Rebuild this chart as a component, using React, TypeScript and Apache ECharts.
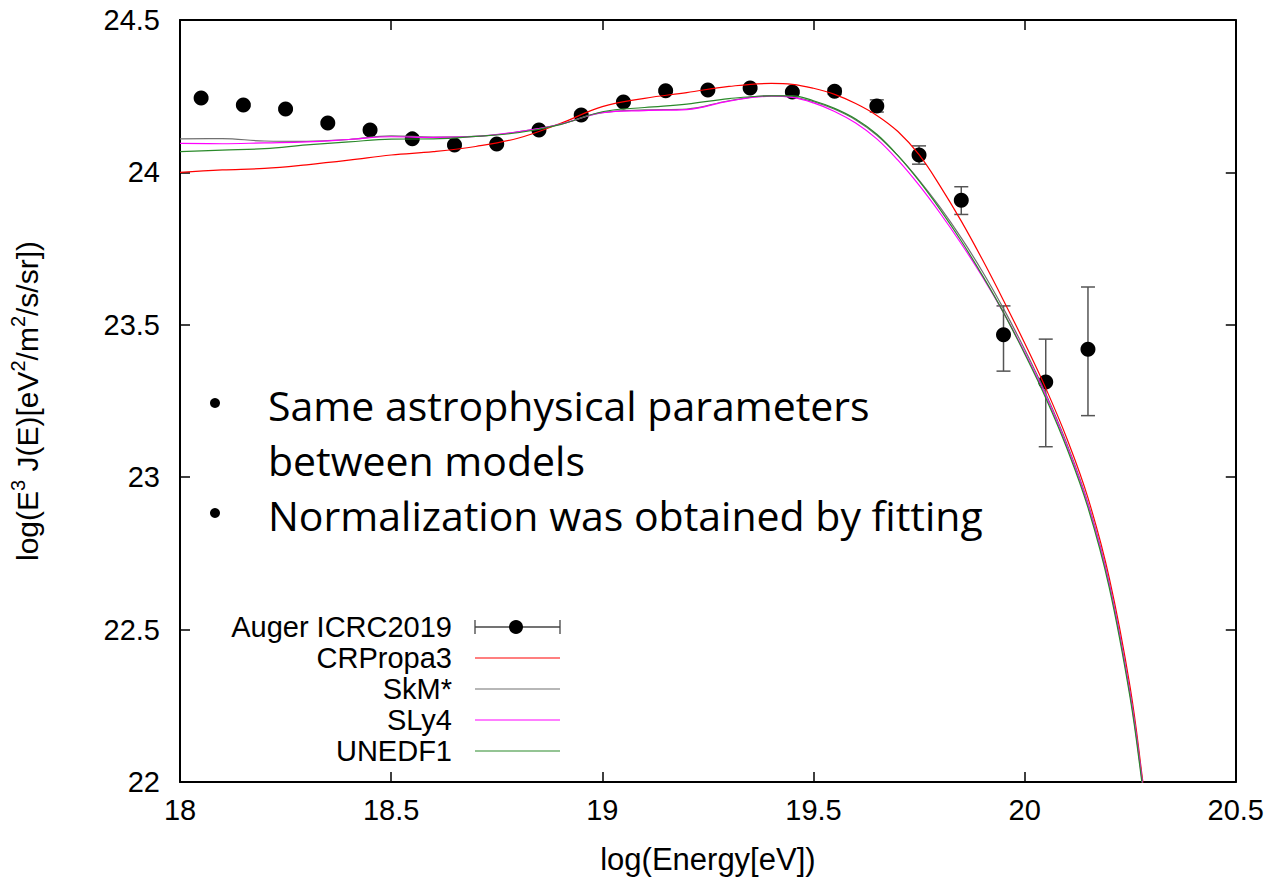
import React, { useEffect, useRef } from "react";
import * as echarts from "echarts";

// ---- data ----
const dataX = [18.05, 18.15, 18.25, 18.35, 18.45, 18.55, 18.65, 18.75, 18.85, 18.95, 19.05, 19.15, 19.25, 19.35, 19.45, 19.55, 19.65, 19.75, 19.85, 19.95, 20.05, 20.15];
const dataY = [24.244, 24.221, 24.208, 24.162, 24.139, 24.110, 24.090, 24.093, 24.139, 24.188, 24.231, 24.268, 24.270, 24.277, 24.264, 24.266, 24.218, 24.057, 23.909, 23.467, 23.312, 23.420];
const dataLow = [24.239, 24.216, 24.203, 24.157, 24.134, 24.105, 24.085, 24.088, 24.134, 24.183, 24.226, 24.263, 24.265, 24.272, 24.259, 24.256, 24.198, 24.027, 23.862, 23.348, 23.100, 23.202];
const dataHigh = [24.249, 24.226, 24.213, 24.167, 24.144, 24.115, 24.095, 24.098, 24.144, 24.193, 24.236, 24.273, 24.275, 24.282, 24.269, 24.276, 24.238, 24.087, 23.953, 23.562, 23.453, 23.624];

const curveX = [18.0, 18.1, 18.2, 18.3, 18.4, 18.5, 18.6, 18.7, 18.8, 18.9, 19.0, 19.1, 19.2, 19.3, 19.4, 19.45, 19.5, 19.55, 19.6, 19.65, 19.7, 19.75, 19.8, 19.85, 19.9, 19.95, 20.0, 20.05, 20.1, 20.15, 20.2, 20.25, 20.28, 20.3];
const crpropa3 = [24.0, 24.008, 24.013, 24.025, 24.04, 24.057, 24.068, 24.085, 24.112, 24.16, 24.216, 24.243, 24.262, 24.282, 24.292, 24.289, 24.276, 24.256, 24.226, 24.187, 24.134, 24.058, 23.955, 23.84, 23.714, 23.58, 23.44, 23.292, 23.127, 22.932, 22.672, 22.31, 22.0, 21.78];
const skm = [24.11, 24.111, 24.103, 24.102, 24.108, 24.12, 24.116, 24.118, 24.133, 24.158, 24.196, 24.205, 24.208, 24.235, 24.252, 24.248, 24.232, 24.207, 24.172, 24.122, 24.055, 23.975, 23.885, 23.785, 23.675, 23.553, 23.42, 23.275, 23.11, 22.915, 22.655, 22.29, 21.99, 21.77];
const sly4 = [24.095, 24.094, 24.097, 24.100, 24.108, 24.117, 24.115, 24.118, 24.133, 24.158, 24.196, 24.203, 24.206, 24.234, 24.25, 24.246, 24.228, 24.2, 24.162, 24.11, 24.04, 23.958, 23.866, 23.766, 23.658, 23.54, 23.41, 23.268, 23.103, 22.91, 22.65, 22.285, 21.985, 21.765];
const unedf1 = [24.068, 24.073, 24.078, 24.09, 24.10, 24.109, 24.11, 24.118, 24.13, 24.157, 24.199, 24.213, 24.224, 24.242, 24.251, 24.251, 24.235, 24.21, 24.175, 24.125, 24.055, 23.972, 23.878, 23.775, 23.662, 23.54, 23.405, 23.26, 23.095, 22.9, 22.64, 22.275, 21.975, 21.76];

const xTicks = [18, 20.5, 0.5];
const yTicks = [22, 24.5, 0.5];

const seriesNames = ["Auger ICRC2019", "CRPropa3", "SkM*", "SLy4", "UNEDF1"];
const seriesColors = ["#000000", "#ff0000", "#707070", "#ff00ff", "#2a8a2a"];

const bulletLines = [
  "Same astrophysical parameters",
  "between models",
  "Normalization was obtained by fitting",
];

const FONT = "'Liberation Sans', Arial, sans-serif";
const BFONT = "'Open Sans', sans-serif";

export default function App() {
  const ref = useRef<HTMLDivElement>(null);
  useEffect(() => {
    document.body.style.margin = "0";
    const chart = echarts.init(ref.current!, null, { renderer: "svg" });
    const zip = (xs: number[], ys: number[]) => xs.map((x, i) => [x, ys[i]]);
    const curves = [crpropa3, skm, sly4, unedf1];

    const lineSeries = curves.map((c, i) => ({
      name: seriesNames[i + 1],
      type: "line",
      data: zip(curveX, c),
      smooth: 0.4,
      showSymbol: false,
      symbol: "none",
      clip: true,
      lineStyle: { color: seriesColors[i + 1], width: 1.2 },
      z: 5,
    }));

    // legend drawn as graphic
    const legX = 452;
    const legY0 = 627;
    const legDy = 31;
    const legendGraphics: any[] = [];
    seriesNames.forEach((n, i) => {
      const y = legY0 + i * legDy;
      legendGraphics.push({
        type: "text",
        x: legX,
        y,
        style: { text: n, font: `29px ${FONT}`, fill: "#000", align: "right", verticalAlign: "middle" },
      });
      if (i === 0) {
        legendGraphics.push(
          { type: "line", shape: { x1: 475, y1: y, x2: 560, y2: y }, style: { stroke: "#444", lineWidth: 1.3 } },
          { type: "line", shape: { x1: 475, y1: y - 7, x2: 475, y2: y + 7 }, style: { stroke: "#444", lineWidth: 1.3 } },
          { type: "line", shape: { x1: 560, y1: y - 7, x2: 560, y2: y + 7 }, style: { stroke: "#444", lineWidth: 1.3 } },
          { type: "circle", shape: { cx: 516, cy: y, r: 7 }, style: { fill: "#000" } }
        );
      } else {
        legendGraphics.push({
          type: "line",
          shape: { x1: 475, y1: y, x2: 560, y2: y },
          style: { stroke: seriesColors[i], lineWidth: 1.2 },
        });
      }
    });

    const bulletGraphics: any[] = [
      { type: "circle", shape: { cx: 215, cy: 403, r: 5 }, style: { fill: "#000" } },
      { type: "text", x: 268, y: 405, style: { text: bulletLines[0], font: `41px ${BFONT}`, fill: "#000", verticalAlign: "middle" } },
      { type: "text", x: 268, y: 460, style: { text: bulletLines[1], font: `41px ${BFONT}`, fill: "#000", verticalAlign: "middle" } },
      { type: "circle", shape: { cx: 215, cy: 513, r: 5 }, style: { fill: "#000" } },
      { type: "text", x: 268, y: 515, style: { text: bulletLines[2], font: `41px ${BFONT}`, fill: "#000", verticalAlign: "middle" } },
    ];

    const axisCommon = {
      axisLine: { show: true, lineStyle: { color: "#000", width: 2 } },
      axisTick: { show: true, inside: true, length: 10, lineStyle: { color: "#000", width: 1.5 } },
      splitLine: { show: false },
    };

    const option: any = {
      animation: false,
      backgroundColor: "#fff",
      grid: { left: 171, right: 31, top: 20, bottom: 98, containLabel: false },
      xAxis: [
        {
          type: "value",
          min: xTicks[0],
          max: xTicks[1],
          interval: xTicks[2],
          position: "bottom",
          ...axisCommon,
          axisLabel: { color: "#000", fontSize: 29, fontFamily: FONT, margin: 13, formatter: (v: number) => String(v) },
          name: "log(Energy[eV])",
          nameLocation: "middle",
          nameGap: 62,
          nameTextStyle: { color: "#000", fontSize: 31, fontFamily: FONT },
        },
        {
          type: "value",
          min: xTicks[0],
          max: xTicks[1],
          interval: xTicks[2],
          position: "top",
          ...axisCommon,
          axisLabel: { show: false },
        },
      ],
      yAxis: [
        {
          type: "value",
          min: yTicks[0],
          max: yTicks[1],
          interval: yTicks[2],
          position: "left",
          ...axisCommon,
          axisLabel: { color: "#000", fontSize: 29, fontFamily: FONT, margin: 20, formatter: (v: number) => String(v) },
          name: "{t|log(E}{s|3}{t| J(E)[eV}{s|2}{t|/m}{s|2}{t|/s/sr])}",
          nameLocation: "middle",
          nameGap: 138,
          nameRotate: 90,
          nameTextStyle: {
            color: "#000",
            fontFamily: FONT,
            rich: {
              t: { fontSize: 30, fontFamily: FONT, color: "#000", verticalAlign: "bottom" },
              s: { fontSize: 20, fontFamily: FONT, color: "#000", verticalAlign: "top", padding: [0, 0, 14, 0] },
            },
          },
        },
        {
          type: "value",
          min: yTicks[0],
          max: yTicks[1],
          interval: yTicks[2],
          position: "right",
          ...axisCommon,
          axisLabel: { show: false },
        },
      ],
      series: [
        {
          name: "errors",
          type: "custom",
          data: dataX.map((x, i) => [x, dataLow[i], dataHigh[i]]),
          renderItem: (params: any, api: any) => {
            const x = api.value(0);
            const pLo = api.coord([x, api.value(1)]);
            const pHi = api.coord([x, api.value(2)]);
            const h = 7;
            const st = { stroke: "#555", lineWidth: 1.5 };
            return {
              type: "group",
              children: [
                { type: "line", shape: { x1: pLo[0], y1: pLo[1], x2: pHi[0], y2: pHi[1] }, style: st },
                { type: "line", shape: { x1: pLo[0] - h, y1: pLo[1], x2: pLo[0] + h, y2: pLo[1] }, style: st },
                { type: "line", shape: { x1: pHi[0] - h, y1: pHi[1], x2: pHi[0] + h, y2: pHi[1] }, style: st },
              ],
            };
          },
          z: 2,
        },
        {
          name: seriesNames[0],
          type: "scatter",
          data: zip(dataX, dataY),
          symbol: "circle",
          symbolSize: 15,
          itemStyle: { color: "#000", opacity: 1 },
          z: 3,
        },
        ...lineSeries,
      ],
      graphic: [...legendGraphics, ...bulletGraphics],
    };
    chart.setOption(option);
    return () => chart.dispose();
  }, []);
  return <div ref={ref} style={{ width: 1267, height: 880 }} />;
}
